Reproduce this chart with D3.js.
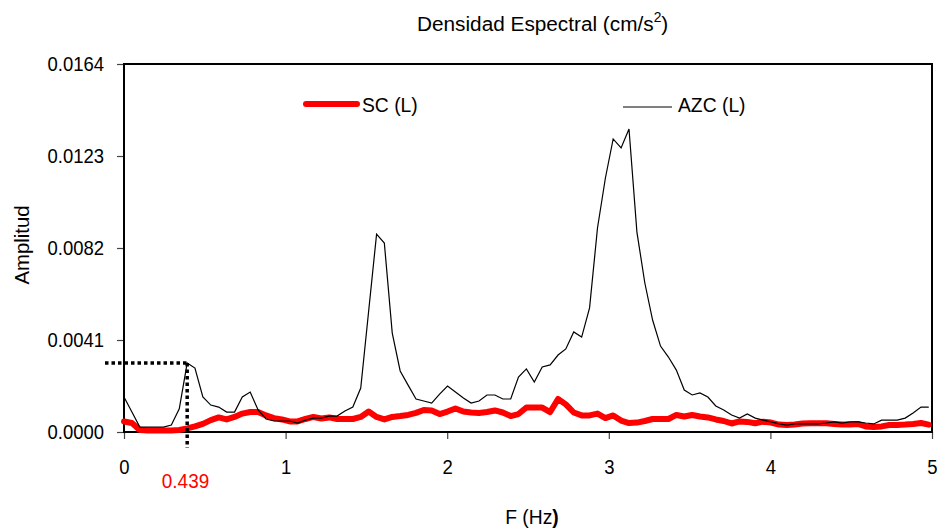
<!DOCTYPE html>
<html>
<head>
<meta charset="utf-8">
<script src="https://cdn.jsdelivr.net/npm/d3@7"></script>
<style>
  body { margin: 0; background: #fff; }
</style>
</head>
<body>
<script>
// frequencies (Hz), step 1/20.48
const freq = [
  0, 0.049, 0.098, 0.146, 0.195, 0.244, 0.293, 0.342, 0.391, 0.439,
  0.488, 0.537, 0.586, 0.635, 0.684, 0.732, 0.781, 0.830, 0.879, 0.928,
  0.977, 1.025, 1.074, 1.123, 1.172, 1.221, 1.270, 1.318, 1.367, 1.416,
  1.465, 1.514, 1.563, 1.611, 1.660, 1.709, 1.758, 1.807, 1.855, 1.904,
  1.953, 2.002, 2.051, 2.100, 2.148, 2.197, 2.246, 2.295, 2.344, 2.393,
  2.441, 2.490, 2.539, 2.588, 2.637, 2.686, 2.734, 2.783, 2.832, 2.881,
  2.930, 2.979, 3.027, 3.076, 3.125, 3.174, 3.223, 3.271, 3.320, 3.369,
  3.418, 3.467, 3.516, 3.564, 3.613, 3.662, 3.711, 3.760, 3.809, 3.857,
  3.906, 3.955, 4.004, 4.053, 4.102, 4.150, 4.199, 4.248, 4.297, 4.346,
  4.395, 4.443, 4.492, 4.541, 4.590, 4.639, 4.688, 4.736, 4.785, 4.834,
  4.883, 4.932, 4.980
];

// SC (L) - red
const scL = [
  0.00047, 0.00040, 0.00009, 0.00007, 0.00007, 0.00007, 0.00007, 0.00009, 0.00016, 0.00025,
  0.00036, 0.00053, 0.00065, 0.00056, 0.00067, 0.00082, 0.00089, 0.00089, 0.00074, 0.00062,
  0.00056, 0.00047, 0.00047, 0.00058, 0.00067, 0.00060, 0.00065, 0.00058, 0.00058, 0.00058,
  0.00067, 0.00091, 0.00067, 0.00056, 0.00067, 0.00071, 0.00076, 0.00085, 0.00098, 0.00096,
  0.00080, 0.00091, 0.00105, 0.00091, 0.00087, 0.00085, 0.00089, 0.00096, 0.00087, 0.00071,
  0.00080, 0.00109, 0.00109, 0.00109, 0.00089, 0.00147, 0.00123, 0.00087, 0.00074, 0.00074,
  0.00082, 0.00062, 0.00074, 0.00051, 0.00040, 0.00042, 0.00049, 0.00058, 0.00058, 0.00058,
  0.00076, 0.00069, 0.00076, 0.00069, 0.00065, 0.00056, 0.00049, 0.00038, 0.00047, 0.00045,
  0.00039, 0.00046, 0.00042, 0.00033, 0.00031, 0.00033, 0.00038, 0.00039, 0.00039, 0.00039,
  0.00036, 0.00033, 0.00033, 0.00036, 0.00025, 0.00022, 0.00025, 0.00031, 0.00031, 0.00033,
  0.00036, 0.00040, 0.00033
];

// AZC (L) - black
const azcL = [
  0.00156, 0.00089, 0.00022, 0.00022, 0.00022, 0.00022, 0.00031, 0.00103, 0.00307, 0.00285,
  0.00156, 0.00120, 0.00111, 0.00089, 0.00089, 0.00156, 0.00178, 0.00098, 0.00058, 0.00049,
  0.00049, 0.00049, 0.00040, 0.00053, 0.00062, 0.00062, 0.00071, 0.00071, 0.00094, 0.00111,
  0.00196, 0.00539, 0.00882, 0.00842, 0.00441, 0.00272, 0.00209, 0.00147, 0.00138, 0.00129,
  0.00169, 0.00205, 0.00178, 0.00152, 0.00129, 0.00138, 0.00165, 0.00165, 0.00147, 0.00147,
  0.00245, 0.00281, 0.00223, 0.00290, 0.00299, 0.00343, 0.00370, 0.00446, 0.00423, 0.00553,
  0.00909, 0.01132, 0.01306, 0.01266, 0.01350, 0.00891, 0.00664, 0.00499, 0.00383, 0.00334,
  0.00276, 0.00187, 0.00165, 0.00174, 0.00156, 0.00116, 0.00098, 0.00076, 0.00062, 0.00080,
  0.00062, 0.00053, 0.00045, 0.00036, 0.00031, 0.00036, 0.00036, 0.00036, 0.00036, 0.00040,
  0.00045, 0.00040, 0.00045, 0.00045, 0.00040, 0.00036, 0.00053, 0.00053, 0.00053, 0.00062,
  0.00085, 0.00111, 0.00111
];

const xTicks = [0, 1, 2, 3, 4, 5];
const yTicks = [0, 0.0041, 0.0082, 0.0123, 0.0164];
const peakIdx = 8;          // first AZC peak, marked with the dotted lines
const peakLabel = "0.439";

const FONT = "'Liberation Sans', Arial, sans-serif";
const W = 937, H = 531;
const mLeft = 124, mRight = 932, mTop = 64, mBottom = 432;

const svg = d3.select("body").append("svg")
    .attr("width", W)
    .attr("height", H);

svg.append("rect")
    .attr("width", W)
    .attr("height", H)
    .attr("fill", "#fff");

const x = d3.scaleLinear().domain([0, 5]).range([mLeft, mRight]);
const y = d3.scaleLinear().domain([0, 0.0164]).range([mBottom, mTop]);

// x axis
const gx = svg.append("g")
    .attr("transform", `translate(0,${mBottom})`)
    .call(d3.axisBottom(x).tickValues(xTicks).tickFormat(d3.format("d"))
      .tickSizeInner(7).tickSizeOuter(0).tickPadding(20));
gx.select(".domain").remove();
gx.selectAll(".tick line").attr("stroke", "#444").attr("stroke-width", 1.2);
gx.selectAll(".tick text")
    .attr("font-size", 21)
    .attr("font-family", FONT)
    .attr("fill", "#000")
    .attr("transform", "scale(0.88,1)");

// y axis
const gy = svg.append("g")
    .attr("transform", `translate(${mLeft},0)`)
    .call(d3.axisLeft(y).tickValues(yTicks).tickFormat(d3.format(".4f"))
      .tickSizeInner(7).tickSizeOuter(0));
gy.select(".domain").remove();
gy.selectAll(".tick line").attr("stroke", "#444").attr("stroke-width", 1.2);
gy.selectAll(".tick text")
    .attr("font-size", 21)
    .attr("font-family", FONT)
    .attr("fill", "#000")
    .attr("x", -20 / 0.88)
    .attr("transform", "scale(0.88,1)");

// plot frame
svg.append("rect")
    .attr("x", mLeft)
    .attr("y", mTop)
    .attr("width", mRight - mLeft)
    .attr("height", mBottom - mTop)
    .attr("fill", "none")
    .attr("stroke", "#000")
    .attr("stroke-width", 2);

const line = d3.line()
    .x((d, i) => x(freq[i]))
    .y(d => y(d));

svg.append("path")
    .datum(scL)
    .attr("d", line)
    .attr("fill", "none")
    .attr("stroke", "#ff0000")
    .attr("stroke-width", 6)
    .attr("stroke-linejoin", "round")
    .attr("stroke-linecap", "round");

svg.append("path")
    .datum(azcL)
    .attr("d", line)
    .attr("fill", "none")
    .attr("stroke", "#000")
    .attr("stroke-width", 1.2);

// dotted marker at the first peak
const px = x(freq[peakIdx]), py = y(azcL[peakIdx]);
svg.append("line")
    .attr("x1", 105).attr("x2", px)
    .attr("y1", py).attr("y2", py)
    .attr("stroke", "#000")
    .attr("stroke-width", 3.5)
    .attr("stroke-dasharray", "3.5,3");
svg.append("line")
    .attr("x1", px).attr("x2", px)
    .attr("y1", py).attr("y2", mBottom + 16)
    .attr("stroke", "#000")
    .attr("stroke-width", 3.5)
    .attr("stroke-dasharray", "3.5,3");

function label(txt, tx, ty, opts) {
  opts = opts || {};
  const t = svg.append("text")
      .attr("transform", `translate(${tx},${ty}) ${opts.rotate ? "rotate(" + opts.rotate + ")" : ""} scale(${opts.sx || 1},1)`)
      .attr("text-anchor", opts.anchor || "start")
      .attr("font-family", FONT)
      .attr("font-size", opts.size || 21)
      .attr("fill", opts.fill || "#000")
      .text(txt);
  return t;
}

label(peakLabel, 185.5, 488, {anchor: "middle", fill: "#ff0000", sx: 0.9});

// title with superscript
const title = label("Densidad Espectral (cm/s", 417, 31, {sx: 0.99});
title.append("tspan").attr("font-size", 14).attr("dy", -9).text("2");
title.append("tspan").attr("dy", 9).text(")");

label("Amplitud", 29, 245, {anchor: "middle", rotate: -90, sx: 0.97});

const xt = label("F (Hz", 532, 524, {anchor: "middle", sx: 0.92});
xt.append("tspan").attr("font-weight", "bold").text(")");

// legend
svg.append("line")
    .attr("x1", 306).attr("x2", 357)
    .attr("y1", 104).attr("y2", 104)
    .attr("stroke", "#ff0000")
    .attr("stroke-width", 6)
    .attr("stroke-linecap", "round");
label("SC (L)", 362, 111.5, {sx: 0.92});

svg.append("line")
    .attr("x1", 623).attr("x2", 672)
    .attr("y1", 107).attr("y2", 107)
    .attr("stroke", "#000")
    .attr("stroke-width", 1);
label("AZC (L)", 678, 111.5, {sx: 0.92});
</script>
</body>
</html>
